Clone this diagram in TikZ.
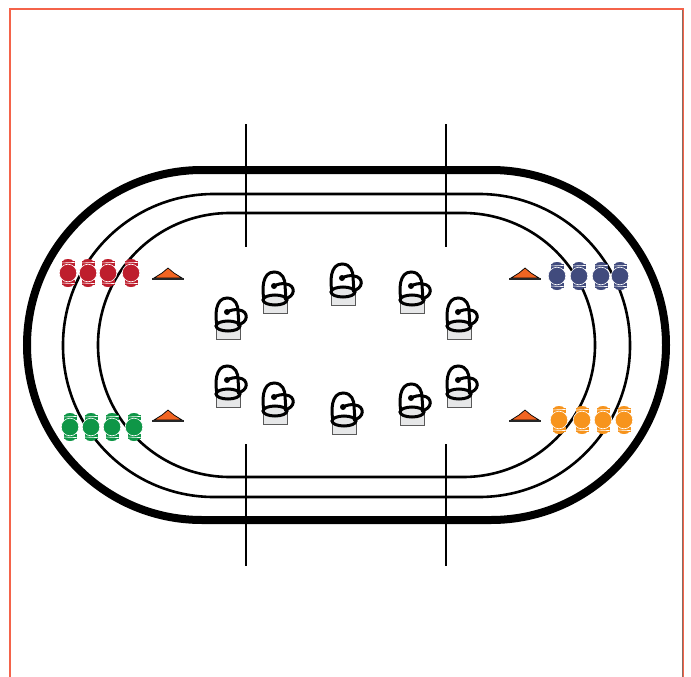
\documentclass[tikz,border=0pt]{standalone}
\definecolor{framered}{HTML}{F4634A}
\definecolor{frameshade}{HTML}{8B6B60}
\definecolor{skatered}{HTML}{BE1E2D}
\definecolor{skategreen}{HTML}{0F9647}
\definecolor{skateblue}{HTML}{414B7D}
\definecolor{skateorange}{HTML}{F7941D}
\definecolor{conefill}{HTML}{F26522}
\definecolor{standgray}{HTML}{E6E7E8}
\tikzset{
    trackline/.style={draw=black,line width=2.6pt},
    skater/.pic={
        \foreach \s in {-1,1}{
            \fill[#1] (-5,\s*12) arc[start angle=180,end angle=0,x radius=5,y radius=\s*2] -- cycle;
            \fill[#1] (-6.5,\s*7) rectangle (6.5,\s*12);
            \draw[white,line width=.6pt] (-7,\s*10) -- (7,\s*10.6);
        }
        \draw[white,line width=.6pt,fill=#1] (0,0) circle (8.8);
    },
    cone/.pic={
        \fill[conefill,draw=black,line width=.7pt] (-14,-1) -- (-6,-6) -- (0,-11) -- (6,-6) -- (14,-1) -- cycle;
        \draw[black!85,line width=2pt] (-16,0) -- (16,0);
    },
    judge/.pic={
        \draw[black!65,fill=standgray,line width=.6pt] (-12,0) rectangle (12,13);
        \draw[black,line width=3pt,fill=white] (-11,0) .. controls (-13,-10) and (-13,-28) .. (-1,-28)
            .. controls (8,-28) and (10,-20) .. (10,-15) -- (11,0);
        \draw[black,line width=3pt,fill=standgray] (0,0) ellipse (12 and 5);
        \draw[black,line width=3pt] (-1,-14) .. controls (3,-16) and (7,-17) .. (11,-16)
            .. controls (21,-15) and (21,-3) .. (9,-1);
        \fill[black] (-1,-14) circle (3);
    }
}
\begin{document}
\begin{tikzpicture}[x=1pt,y=-1pt]
    \useasboundingbox (0,0) rectangle (691,677);
    % frame
    \draw[framered,line width=2.4pt] (10,677) -- (10,9) -- (683,9) -- (683,677);
    \draw[frameshade,line width=1pt] (682.5,10) -- (682.5,677);
    % tracks
    \draw[black,line width=8pt,rounded corners=175pt] (27,170) rectangle (666,520);
    \draw[trackline,rounded corners=151pt] (63,194) rectangle (630,497);
    \draw[trackline,rounded corners=132pt] (98,213) rectangle (595,477);
    % gates
    \foreach \x in {246,446}{
        \draw[trackline] (\x,124) -- (\x,247);
        \draw[trackline] (\x,444) -- (\x,566);
    }
    % cones
    \foreach \x/\y in {168/279,525/279,168/421,525/421}
        \pic at (\x,\y) {cone};
    % judges
    \foreach \x/\y in {228/326,275/300,343/292,412/300,459/326,228/394,275/411,344/421,412/412,459/394}
        \pic at (\x,\y) {judge};
    % skaters
    \foreach \x in {68,88,108,131}
        \pic at (\x,273) {skater=skatered};
    \foreach \x in {557,579,601,620}
        \pic at (\x,276) {skater=skateblue};
    \foreach \x in {70,91,112,134}
        \pic at (\x,427) {skater=skategreen};
    \foreach \x in {559,582,603,624}
        \pic at (\x,420) {skater=skateorange};
\end{tikzpicture}
\end{document}
